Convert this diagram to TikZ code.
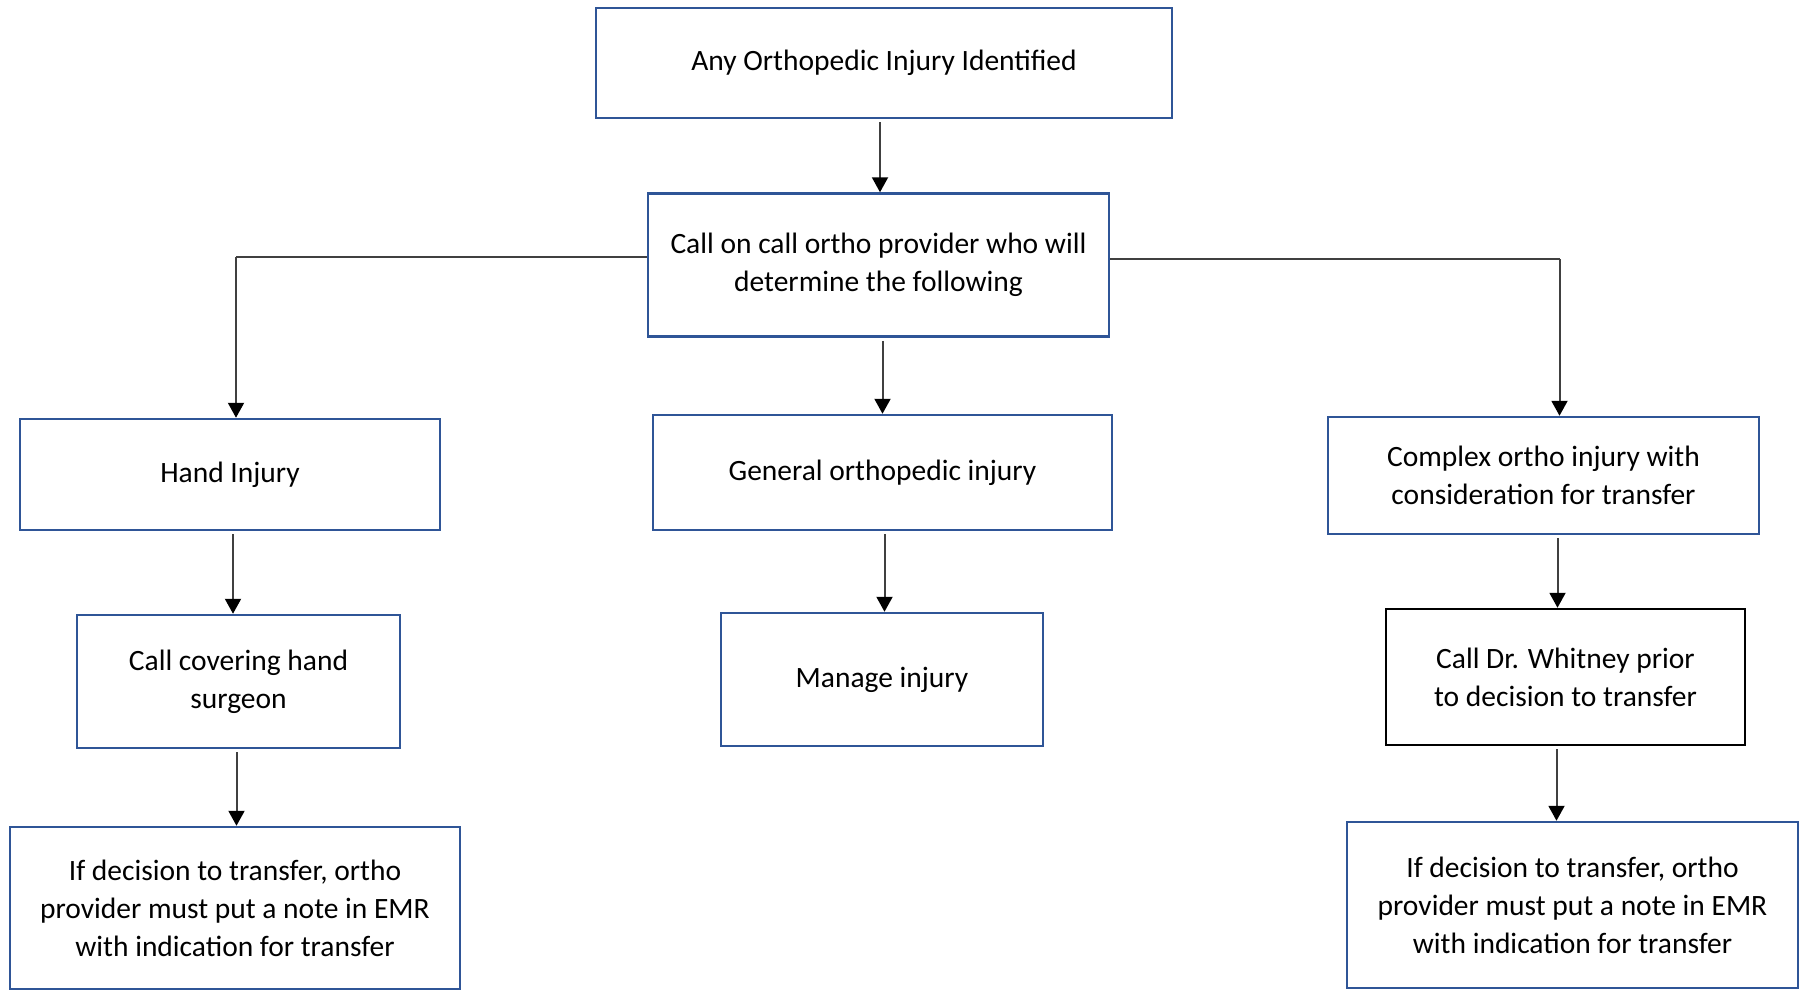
\documentclass[tikz,border=0pt]{standalone}
\usepackage{fontspec}
\setmainfont{Carlito}
\usetikzlibrary{arrows.meta}
\definecolor{boxblue}{HTML}{2F5597}
\definecolor{linegray}{HTML}{404040}
\tikzset{
  bbox/.style={draw=boxblue, line width=2.5pt, fill=white, inner sep=0pt, align=center,
    font=\fontsize{29.5}{38}\selectfont},
  kbox/.style={bbox, draw=black},
  conn/.style={draw=linegray, line width=2pt},
  arr/.style={conn, -{Triangle[width=16pt,length=15pt,color=black]}, shorten <=3pt},
}
\begin{document}
\begin{tikzpicture}[x=1pt,y=-1pt]
\useasboundingbox (0,0) rectangle (1807,990);
\node[bbox, minimum width=576pt, minimum height=110pt] (top) at (884,63) {Any Orthopedic Injury Identified};
\node[bbox, minimum width=461pt, minimum height=143pt] (call) at (878.5,265) {Call on call ortho provider who will\\determine the following};
\node[bbox, minimum width=420pt, minimum height=111pt] (hand) at (230,474.5) {Hand Injury};
\node[bbox, minimum width=459pt, minimum height=115pt] (general) at (882.5,472.5) {General orthopedic injury};
\node[bbox, minimum width=431pt, minimum height=117pt] (complex) at (1543.5,475.5) {Complex ortho injury with\\consideration for transfer};
\node[bbox, minimum width=323pt, minimum height=133pt] (cover) at (238.5,681.5) {Call covering hand\\surgeon};
\node[bbox, minimum width=322pt, minimum height=133pt] (manage) at (882,679.5) {Manage injury};
\node[kbox, minimum width=359pt, minimum height=136pt] (whitney) at (1565.5,677) {Call Dr. Whitney prior\\to decision to transfer};
\node[bbox, minimum width=450pt, minimum height=162pt] (lfinal) at (235,908) {If decision to transfer, ortho\\provider must put a note in EMR\\with indication for transfer};
\node[bbox, minimum width=451pt, minimum height=166pt] (rfinal) at (1572.5,905) {If decision to transfer, ortho\\provider must put a note in EMR\\with indication for transfer};

\draw[arr] ([xshift=-4pt]top.south) -- ([xshift=-4pt]top.south |- call.north);
\draw[conn] ([yshift=8pt]call.west) -- ([yshift=8pt,xshift=6pt]call.west -| hand.north) coordinate (lc);
\draw[arr, shorten <=0pt] (lc) -- (lc |- hand.north);
\draw[conn] ([yshift=6pt]call.east) -- ([yshift=6pt,xshift=16pt]call.east -| complex.north) coordinate (rc);
\draw[arr, shorten <=0pt] (rc) -- (rc |- complex.north);
\draw[arr] ([xshift=4pt]call.south) -- ([xshift=4pt]call.south |- general.north);
\draw[arr] ([xshift=3pt]hand.south) -- ([xshift=3pt]hand.south |- cover.north);
\draw[arr] ([xshift=2pt]general.south) -- ([xshift=2pt]general.south |- manage.north);
\draw[arr] ([xshift=14pt]complex.south) -- ([xshift=14pt]complex.south |- whitney.north);
\draw[arr] ([xshift=-2pt]cover.south) -- ([xshift=-2pt]cover.south |- lfinal.north);
\draw[arr] ([xshift=-9pt]whitney.south) -- ([xshift=-9pt]whitney.south |- rfinal.north);
\end{tikzpicture}
\end{document}
